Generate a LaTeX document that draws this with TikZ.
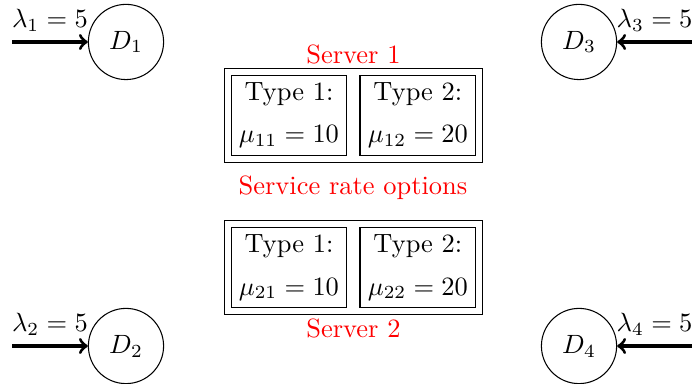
\documentclass[tikz,border=0pt]{standalone}
\usetikzlibrary{positioning,fit}
\begin{document}
\begin{tikzpicture}[
    demand/.style={circle, draw, minimum size=1cm},
    option/.style={rectangle, draw, minimum width=1.54cm, minimum height=1.06cm,
        align=center, inner sep=1pt},
    server/.style={rectangle, draw, inner sep=2.4pt},
    rate/.style={text=red},
    arrival/.style={->, very thick}
]
\useasboundingbox (0,0) rectangle (9.2,5.105);

% demand nodes
\node (D1) [demand] at (1.675,4.547) {$D_1$};
\node (D2) [demand] at (1.675,0.505) {$D_2$};
\node (D3) [demand] at (7.698,4.547) {$D_3$};
\node (D4) [demand] at (7.698,0.505) {$D_4$};

\coordinate (A1) at (0.16,4.547);
\coordinate (A2) at (0.16,0.505);
\coordinate (A3) at (9.2,4.547);
\coordinate (A4) at (9.2,0.505);

\draw[arrival] (A1) -- (D1) node[midway, above] {$\lambda_1 = 5$};
\draw[arrival] (A2) -- (D2) node[midway, above] {$\lambda_2 = 5$};
\draw[arrival] (A3) -- (D3) node[midway, above] {$\lambda_3 = 5$};
\draw[arrival] (A4) -- (D4) node[midway, above] {$\lambda_4 = 5$};

% server 1
\node (Type11) [option] at (3.842,3.570) {Type 1:\\[4pt]$\mu_{11} = 10$};
\node (Type12) [option, right=0.16cm of Type11] {Type 2:\\[4pt]$\mu_{12} = 20$};
\node (Server1) [server, fit=(Type11)(Type12)] {};
\node (Server1Label) [rate, above=-2pt of Server1] {Server 1};

\node (Options) [rate] at (4.693,2.606) {Service rate options};

% server 2
\node (Type21) [option] at (3.842,1.549) {Type 1:\\[4pt]$\mu_{21} = 10$};
\node (Type22) [option, right=0.16cm of Type21] {Type 2:\\[4pt]$\mu_{22} = 20$};
\node (Server2) [server, fit=(Type21)(Type22)] {};
\node (Server2Label) [rate, below=-2pt of Server2] {Server 2};

\end{tikzpicture}
\end{document}
